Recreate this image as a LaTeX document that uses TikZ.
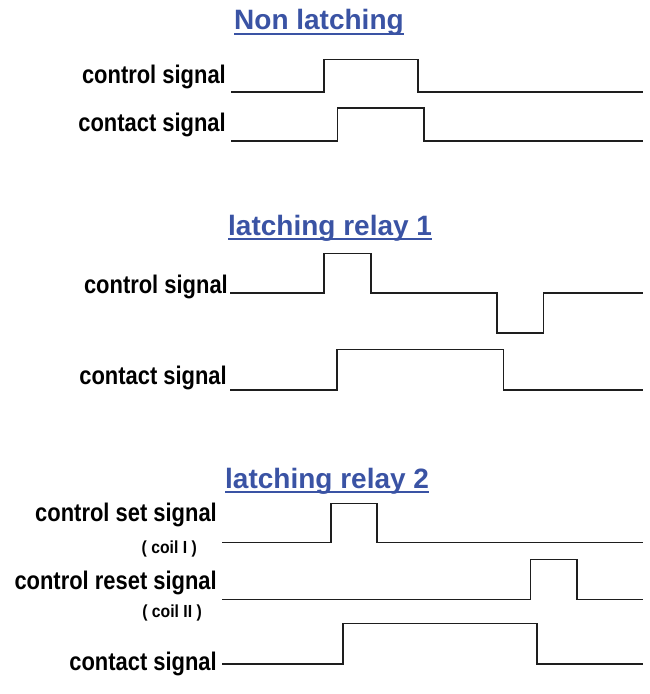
\documentclass[tikz,border=0pt]{standalone}
\usepackage{fontspec}
\setmainfont{Liberation Sans}
\definecolor{titleblue}{RGB}{58,83,164}
\definecolor{wave}{RGB}{30,30,30}
\tikzset{
  titletext/.style={font=\fontsize{28}{30}\selectfont\bfseries, text=titleblue, inner sep=0pt, anchor=base west},
  titleline/.style={draw=titleblue, line width=2.2pt},
  sig/.style={font=\fontsize{25.5}{27}\selectfont\bfseries, inner sep=0pt, anchor=base east},
  coil/.style={font=\fontsize{17.5}{19}\selectfont\bfseries, inner sep=0pt, anchor=base east},
  wavey/.style={draw=wave, line width=1.3pt, line join=miter}
}
\newcommand{\cond}[1]{\scalebox{0.86}[1]{#1}}
\newcommand{\condc}[1]{\scalebox{0.9}[1]{#1}}
\begin{document}
\begin{tikzpicture}[x=1pt,y=-1pt]
\useasboundingbox (0,0) rectangle (649,694);
% titles
\node[titletext] (t1) at (234,29.5) {Non latching};
\draw[titleline] ([yshift=-4.3pt]t1.base west) -- ([yshift=-4.3pt]t1.base east);
\node[titletext] (t2) at (228,235) {latching relay 1};
\draw[titleline] ([yshift=-4.3pt]t2.base west) -- ([yshift=-4.3pt]t2.base east);
\node[titletext] (t3) at (225,488) {latching relay 2};
\draw[titleline] ([yshift=-4.3pt]t3.base west) -- ([yshift=-4.3pt]t3.base east);
% labels
\node[sig] (l1) at (226,83.3) {\cond{control signal}};
\node[sig] (l2) at (226,131) {\cond{contact signal}};
\node[sig] (l3) at (228,293) {\cond{control signal}};
\node[sig] (l4) at (227,384) {\cond{contact signal}};
\node[sig] (l5) at (217,521.7) {\cond{control set signal}};
\node[coil] (c1) at (197,553) {\condc{( coil I )}};
\node[sig] (l6) at (217,589) {\cond{control reset signal}};
\node[coil] (c2) at (202,617) {\condc{( coil II )}};
\node[sig] (l7) at (217,670) {\cond{contact signal}};
% waveforms
\draw[wavey] (231,92) -- (324,92) -- (324,59.5) -- (418,59.5) -- (418,92) -- (643,92);
\draw[wavey] (231,141) -- (337.5,141) -- (337.5,108) -- (424,108) -- (424,141) -- (643,141);
\draw[wavey] (230,293) -- (324,293) -- (324,253.5) -- (371,253.5) -- (371,293) -- (497,293) -- (497,333) -- (543.5,333) -- (543.5,293) -- (643,293);
\draw[wavey] (230,390) -- (337,390) -- (337,349.5) -- (503.5,349.5) -- (503.5,390) -- (643,390);
\draw[wavey] (222,542.5) -- (331,542.5) -- (331,503.5) -- (377,503.5) -- (377,542.5) -- (643,542.5);
\draw[wavey] (222,599.5) -- (530.5,599.5) -- (530.5,559.5) -- (577,559.5) -- (577,599.5) -- (643,599.5);
\draw[wavey] (222,664) -- (343,664) -- (343,623.5) -- (537,623.5) -- (537,664) -- (643,664);
\end{tikzpicture}
\end{document}
